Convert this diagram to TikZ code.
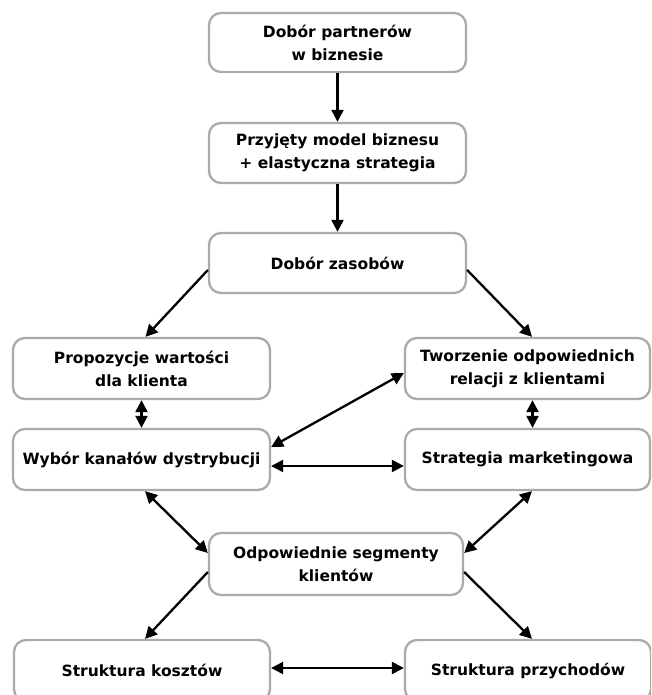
\documentclass[tikz,border=0pt]{standalone}
\usepackage{fontspec}
\setmainfont{DejaVu Sans}
\usetikzlibrary{arrows.meta,calc}
\begin{document}
\begin{tikzpicture}[x=1pt,y=-1pt,
  box/.style={draw=boxgray,line width=2.3pt,rounded corners=12pt,fill=white,
    inner sep=0pt,align=center,font=\fontsize{15.5}{23}\selectfont\bfseries},
  conn/.style={line width=2.3pt,-{Triangle[length=12pt,width=12pt]}},
  dconn/.style={line width=2.3pt,{Triangle[length=12pt,width=12pt]}-{Triangle[length=12pt,width=12pt]}}]
\definecolor{boxgray}{HTML}{AAAAAA}
\clip (0,0) rectangle (651,695);
\fill[white] (0,0) rectangle (651,695);
\node[box,minimum width=257pt,minimum height=59pt] (b1) at (337.5,42.5) {Dobór partnerów\\w biznesie};
\node[box,minimum width=257pt,minimum height=60pt] (b2) at (337.5,153) {Przyjęty model biznesu\\+ elastyczna strategia};
\node[box,minimum width=257pt,minimum height=60pt] (b3) at (337.5,263) {Dobór zasobów};
\node[box,minimum width=257pt,minimum height=61pt] (prop) at (141.5,368.5) {Propozycje wartości\\dla klienta};
\node[box,minimum width=245pt,minimum height=61pt] (twor) at (527.5,368.5) {Tworzenie odpowiednich\\relacji z klientami};
\node[box,minimum width=257pt,minimum height=61pt] (wyb) at (141.5,459.5) {Wybór kanałów dystrybucji};
\node[box,minimum width=245pt,minimum height=61pt] (strat) at (527.5,459.5) {Strategia marketingowa};
\node[box,minimum width=254pt,minimum height=62pt] (odp) at (336,564) {Odpowiednie segmenty\\klientów};
\node[box,minimum width=256pt,minimum height=61pt] (koszt) at (142,670.5) {Struktura kosztów};
\node[box,minimum width=246pt,minimum height=61pt] (przych) at (528,670.5) {Struktura przychodów};

\draw[conn] (b1.south) -- (b2.north);
\draw[conn] (b2.south) -- (b3.north);
\draw[conn] ([yshift=-7pt]b3.west) -- ([xshift=4pt]prop.north);
\draw[conn] ([yshift=-7pt]b3.east) -- ([xshift=4.5pt]twor.north);
\draw[dconn] (prop.south) -- (wyb.north);
\draw[dconn] ([xshift=5pt]twor.south) -- ([xshift=5pt]strat.north);
\draw[dconn] ([yshift=12.5pt]wyb.east) -- ([yshift=-4.5pt]twor.west);
\draw[dconn] ([yshift=-6.5pt]wyb.east) -- ([yshift=-6.5pt]strat.west);
\draw[dconn] ([xshift=3.5pt]wyb.south) -- ([yshift=11pt]odp.west);
\draw[dconn] ([xshift=4.5pt]strat.south) -- ([yshift=11pt]odp.east);
\draw[conn] ([yshift=-8pt]odp.west) -- ([xshift=3pt]koszt.north);
\draw[conn] ([yshift=-8pt]odp.east) -- ([xshift=4pt]przych.north);
\draw[dconn] ([yshift=2.5pt]koszt.east) -- ([yshift=2.5pt]przych.west);
\end{tikzpicture}
\end{document}
